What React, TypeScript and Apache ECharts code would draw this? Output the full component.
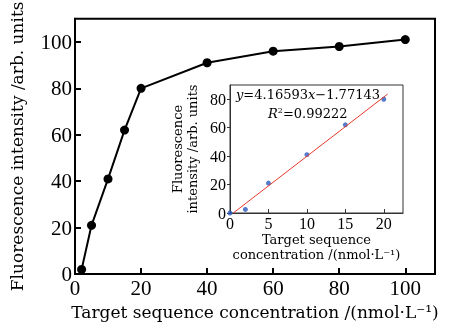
import React, { useEffect, useRef } from "react";
import * as echarts from "echarts";

const mainX = [2, 5, 10, 15, 20, 40, 60, 80, 100];
const mainY = [2, 21, 41, 62, 80, 91, 96, 98, 101];
const insetX = [0, 2, 5, 10, 15, 20];
const insetY = [0, 2.5, 21, 41, 62, 80];
const fitSlope = 4.16593;
const fitIntercept = -1.77143;
const fitRange = [0.425, 20.5];
const r2 = "0.99222";

const NUM = "Liberation Serif";
const TXT = "DejaVu Serif";

export default function App() {
  const ref = useRef<HTMLDivElement>(null);
  useEffect(() => {
    const chart = echarts.init(ref.current!, null, { renderer: "svg" });
    const fitLine = fitRange.map((x) => [x, fitSlope * x + fitIntercept]);
    chart.setOption({
      animation: false,
      textStyle: { fontFamily: TXT },
      grid: [
        { left: 75, top: 13, right: 17, bottom: 48, show: true, borderColor: "#000", borderWidth: 2, backgroundColor: "transparent" },
        { left: 230, top: 85, right: 49, bottom: 112, show: true, borderColor: "#333", borderWidth: 1, backgroundColor: "#fff" },
      ],
      xAxis: [
        {
          gridIndex: 0, type: "value", min: 0, max: 109, interval: 20,
          splitLine: { show: false },
          axisLine: { lineStyle: { color: "#000", width: 2 } },
          axisTick: { inside: true, length: 6, lineStyle: { color: "#000", width: 2 } },
          axisLabel: { color: "#000", fontSize: 21, fontFamily: NUM, margin: 3, showMaxLabel: false },
          name: "Target sequence concentration /(nmol·L⁻¹)",
          nameLocation: "middle", nameGap: 22,
          nameTextStyle: { color: "#000", fontSize: 17, fontFamily: TXT },
        },
        {
          gridIndex: 1, type: "value", min: 0, max: 22.5, interval: 5,
          splitLine: { show: false },
          axisLine: { lineStyle: { color: "#333", width: 1 } },
          axisTick: { inside: true, length: 4, lineStyle: { color: "#333" } },
          axisLabel: { color: "#000", fontSize: 16, fontFamily: NUM, margin: 2, showMaxLabel: false },
          name: "Target sequence\nconcentration /(nmol·L⁻¹)",
          nameLocation: "middle", nameGap: 19,
          nameTextStyle: { color: "#000", fontSize: 13, fontFamily: TXT, lineHeight: 15 },
        },
      ],
      yAxis: [
        {
          gridIndex: 0, type: "value", min: 0, max: 110, interval: 20,
          splitLine: { show: false },
          axisLine: { lineStyle: { color: "#000", width: 2 } },
          axisTick: { inside: true, length: 6, lineStyle: { color: "#000", width: 2 } },
          axisLabel: { color: "#000", fontSize: 21, fontFamily: NUM, margin: 3, showMaxLabel: false },
          name: "Fluorescence intensity /arb. units",
          nameLocation: "middle", nameGap: 50,
          nameTextStyle: { color: "#000", fontSize: 17, fontFamily: TXT },
        },
        {
          gridIndex: 1, type: "value", min: 0, max: 90, interval: 20,
          splitLine: { show: false },
          axisLine: { lineStyle: { color: "#333", width: 1 } },
          axisTick: { inside: false, length: 3, lineStyle: { color: "#333" } },
          axisLabel: { color: "#000", fontSize: 16, fontFamily: NUM, margin: 4, showMaxLabel: false },
          name: "Fluorescence\nintensity /arb. units",
          nameLocation: "middle", nameGap: 30,
          nameTextStyle: { color: "#000", fontSize: 13, fontFamily: TXT, lineHeight: 15 },
        },
      ],
      series: [
        {
          type: "line", xAxisIndex: 0, yAxisIndex: 0,
          data: mainX.map((x, i) => [x, mainY[i]]),
          symbol: "circle", symbolSize: 9,
          lineStyle: { color: "#000", width: 2 },
          itemStyle: { color: "#000" },
        },
        {
          type: "line", xAxisIndex: 1, yAxisIndex: 1,
          data: fitLine, symbol: "none",
          lineStyle: { color: "#e8392b", width: 1 },
        },
        {
          type: "scatter", xAxisIndex: 1, yAxisIndex: 1,
          data: insetX.map((x, i) => [x, insetY[i]]),
          symbol: "circle", symbolSize: 5,
          itemStyle: { color: "#2a5bbf" },
        },
      ],
      graphic: [
        {
          type: "text", left: 236, top: 88,
          style: {
            text: "{i|y}=4.16593{i|x}−1.77143",
            fontSize: 13, fontFamily: TXT, fill: "#000",
            rich: { i: { fontStyle: "italic", fontSize: 13, fontFamily: TXT } },
          },
        },
        {
          type: "text", left: 268, top: 106,
          style: {
            text: "{i|R}{s|2}=" + r2,
            fontSize: 13, fontFamily: TXT, fill: "#000",
            rich: {
              i: { fontStyle: "italic", fontSize: 13, fontFamily: TXT },
              s: { fontSize: 8, fontFamily: TXT, verticalAlign: "top", padding: [0, 0, 6, 0] },
            },
          },
        },
      ],
    });
    return () => chart.dispose();
  }, []);
  return <div ref={ref} style={{ position: "fixed", left: 0, top: 0, width: 452, height: 325 }} />;
}
